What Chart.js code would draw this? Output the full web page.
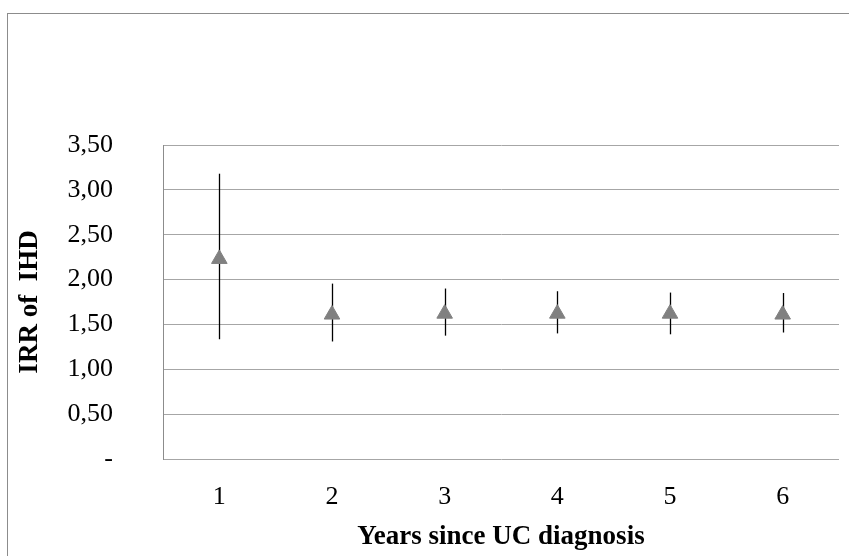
<!DOCTYPE html>
<html>
<head>
<meta charset="utf-8">
<script src="https://cdn.jsdelivr.net/npm/chart.js@4.4.1/dist/chart.umd.min.js"></script>
<style>
  html, body { margin: 0; padding: 0; background: #fff; overflow: hidden; }
  #wrap { position: relative; width: 849px; height: 556px; }
  #frame { position: absolute; left: 7px; top: 13px; width: 860px; height: 560px; border: 1px solid #8c8c8c; box-sizing: border-box; }
  canvas { position: absolute; left: 0; top: 0; }
</style>
</head>
<body>
<div id="wrap">
  <div id="frame"></div>
  <canvas id="irrChart" width="849" height="556"></canvas>
</div>
<script>
// years since diagnosis
const years = ['1', '2', '3', '4', '5', '6'];
// IRR point estimates and 95% CI
const irr = [2.23, 1.61, 1.62, 1.62, 1.62, 1.61];
const ciLow = [1.335, 1.31, 1.375, 1.40, 1.39, 1.41];
const ciHigh = [3.18, 1.955, 1.90, 1.87, 1.855, 1.85];
// y tick labels (Excel style, comma decimals)
const yTickLabels = ['-', '0,50', '1,00', '1,50', '2,00', '2,50', '3,00', '3,50'];

const serif = 'Liberation Serif';

// vertical error bars, drawn under the markers
const errorBars = {
    id: 'errorBars',
    beforeDatasetsDraw(chart) {
        const ctx = chart.ctx;
        const x = chart.scales.x;
        const y = chart.scales.y;
        ctx.save();
        ctx.strokeStyle = '#000';
        ctx.lineWidth = 1.3;
        years.forEach((_, i) => {
            const px = Math.round(x.getPixelForValue(i)) + 0.5;
            ctx.beginPath();
            ctx.moveTo(px, y.getPixelForValue(ciHigh[i]));
            ctx.lineTo(px, y.getPixelForValue(ciLow[i]));
            ctx.stroke();
        });
        ctx.restore();
    }
};

const ctx = document.getElementById('irrChart').getContext('2d');
new Chart(ctx, {
    type: 'line',
    data: {
        labels: years,
        datasets: [{
            data: irr,
            showLine: false,
            pointStyle: 'triangle',
            pointRadius: 9,
            pointHoverRadius: 9,
            pointBackgroundColor: '#808080',
            pointBorderColor: '#808080',
            pointBorderWidth: 1
        }]
    },
    options: {
        responsive: false,
        animation: false,
        layout: { padding: { left: 0, right: 6, top: 145, bottom: 0 } },
        plugins: {
            legend: { display: false },
            tooltip: { enabled: false }
        },
        scales: {
            x: {
                offset: true,
                grid: { display: false, drawTicks: false },
                border: { display: false },
                ticks: {
                    color: '#000',
                    padding: 23,
                    font: { family: serif, size: 26 }
                },
                title: {
                    display: true,
                    text: 'Years since UC diagnosis',
                    color: '#000',
                    padding: { top: 0, bottom: 3 },
                    font: { family: serif, size: 27, weight: 'bold' }
                },
                afterFit(scale) { scale.height = 97; }
            },
            y: {
                min: 0,
                max: 3.5,
                ticks: {
                    stepSize: 0.5,
                    color: '#000',
                    padding: 50,
                    font: { family: serif, size: 26 },
                    callback: function (value) {
                        return yTickLabels[Math.round(value / 0.5)];
                    }
                },
                grid: { color: '#a6a6a6', lineWidth: 1, drawTicks: false },
                border: { display: true, color: '#8c8c8c', width: 1 },
                title: {
                    display: true,
                    text: 'IRR of  IHD',
                    color: '#000',
                    padding: { top: 14, bottom: 0 },
                    font: { family: serif, size: 27, weight: 'bold' }
                },
                afterFit(scale) { scale.width = 163; }
            }
        }
    },
    plugins: [errorBars]
});
</script>
</body>
</html>
